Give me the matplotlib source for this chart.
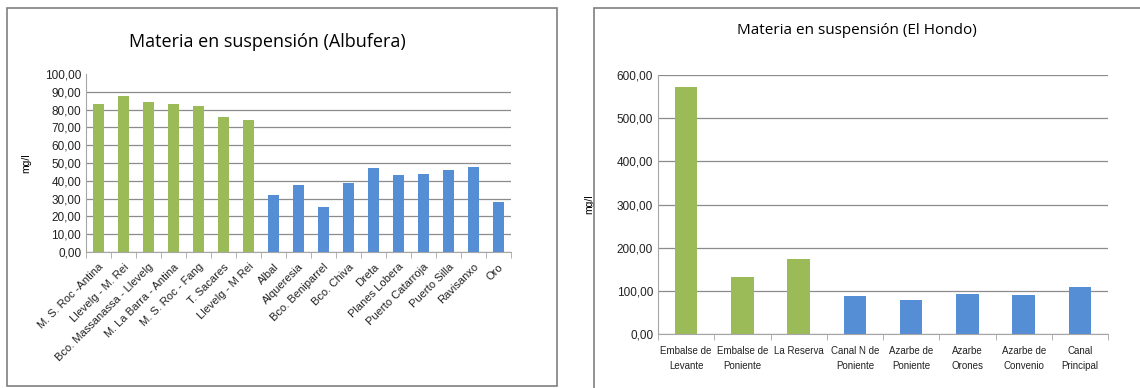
import matplotlib.pyplot as plt
from matplotlib.patches import Rectangle
import numpy as np

plt.rcParams['font.family'] = ['Liberation Sans', 'DejaVu Sans']

# Albufera
alb_labels = ['M. S. Roc -Antina', 'Llevelg - M. Rei', 'Bco. Massanassa - Llevelg',
              'M. La Barra - Antina', 'M. S. Roc - Fang', 'T. Sacares', 'Llevelg - M Rei',
              'Albal', 'Alqueresia', 'Bco. Beniparrel', 'Bco. Chiva', 'Dreta',
              'Planes Lobera', 'Puerto Catarroja', 'Puerto Silla', 'Ravisanxo', 'Oro']
alb_values = [83, 87.5, 84, 83, 82, 76, 74, 32, 37.5, 25.5, 39, 47, 43.5, 44, 46, 47.5, 28]
alb_green = 7

# El Hondo
hon_labels = ['Embalse de\nLevante', 'Embalse de\nPoniente', 'La Reserva', 'Canal N de\nPoniente',
              'Azarbe de\nPoniente', 'Azarbe\nOrones', 'Azarbe de\nConvenio', 'Canal\nPrincipal']
hon_values = [572, 132, 173, 87, 79, 93, 90, 108]
hon_green = 3

GREEN = '#9BBB59'
BLUE = '#558ED5'
GRID = '#8C8C8C'

fig = plt.figure(figsize=(11.4, 3.88), dpi=100)

# panel borders
fig.add_artist(Rectangle((7 / 1140, 1 - 386 / 388), 550 / 1140, 378 / 388,
                         transform=fig.transFigure, fill=False, ec='#7F7F7F', lw=1.2))
fig.add_artist(Rectangle((594 / 1140, -0.05), 0.6, 1 - 8 / 388 + 0.05,
                         transform=fig.transFigure, fill=False, ec='#7F7F7F', lw=1.2))


def style(ax, n):
    for s in ['top', 'right']:
        ax.spines[s].set_visible(False)
    ax.spines['left'].set_color('#A6A6A6')
    ax.spines['bottom'].set_color('#A6A6A6')
    ax.set_xlim(-0.5, n - 0.5)
    ax.set_axisbelow(True)
    ax.yaxis.grid(True, color=GRID, lw=0.9)
    ax.tick_params(axis='y', length=0, labelsize=8.5, colors='#222222')
    ax.tick_params(axis='x', which='major', length=0, labelsize=7, colors='#222222')
    ax.set_xticks(np.arange(-0.5, n, 1), minor=True)
    ax.tick_params(axis='x', which='minor', length=4, color='#A6A6A6')


# left chart
ax1 = fig.add_axes([86 / 1140, 1 - 252 / 388, 425 / 1140, 178 / 388])
x1 = np.arange(len(alb_values))
colors1 = [GREEN] * alb_green + [BLUE] * (len(alb_values) - alb_green)
ax1.bar(x1, alb_values, width=0.47, color=colors1)
style(ax1, len(alb_values))
ax1.set_ylim(0, 100)
ax1.set_yticks(np.arange(0, 101, 10))
ax1.set_yticklabels([f'{v:.2f}'.replace('.', ',') for v in np.arange(0, 101, 10)])
ax1.get_ygridlines()[-1].set_visible(False)
ax1.set_xticks(x1)
ax1.set_xticklabels(alb_labels, rotation=45, ha='right', rotation_mode='anchor')
ax1.tick_params(axis='x', which='major', pad=7, labelsize=8)
ax1.set_ylabel('mg/l', fontsize=7.5, labelpad=10)
fig.text(267 / 1140, 1 - 42 / 388, 'Materia en suspensión (Albufera)', ha='center', va='center',
         fontsize=13, family=['Open Sans', 'DejaVu Sans'])

# right chart
ax2 = fig.add_axes([658 / 1140, 1 - 334 / 388, 450 / 1140, 259 / 388])
x2 = np.arange(len(hon_values))
colors2 = [GREEN] * hon_green + [BLUE] * (len(hon_values) - hon_green)
ax2.bar(x2, hon_values, width=0.4, color=colors2)
style(ax2, len(hon_values))
ax2.set_ylim(0, 600)
ax2.set_yticks(np.arange(0, 601, 100))
ax2.set_yticklabels([f'{v:.2f}'.replace('.', ',') for v in np.arange(0, 601, 100)])
ax2.set_xticks(x2)
ax2.set_xticklabels(hon_labels, linespacing=1.6)
ax2.tick_params(axis='x', which='major', pad=9)
ax2.set_ylabel('mg/l', fontsize=7.5, labelpad=16)
fig.text(857 / 1140, 1 - 30 / 388, 'Materia en suspensión (El Hondo)', ha='center', va='center',
         fontsize=11, family=['Open Sans', 'DejaVu Sans'])

fig.savefig('out.png', dpi=100)
